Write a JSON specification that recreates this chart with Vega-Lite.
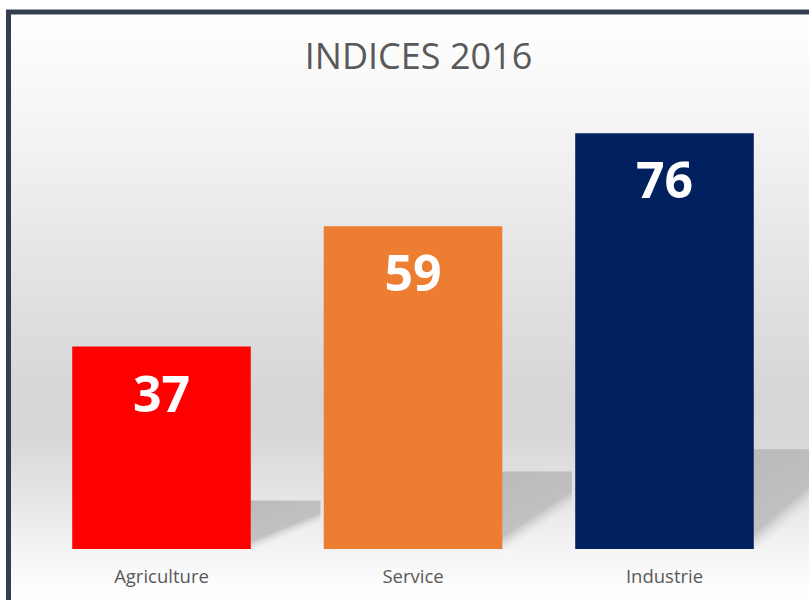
{
  "$schema": "https://vega.github.io/schema/vega-lite/v6.json",
  "width": 820,
  "height": 610,
  "autosize": {"type": "none"},
  "padding": {"left": 8.5, "top": 12, "right": 0, "bottom": 0},
  "background": "#ffffff",
  "title": {
    "text": "INDICES 2016",
    "font": "Open Sans",
    "fontSize": 36,
    "fontWeight": "normal",
    "color": "#595959",
    "anchor": "middle",
    "frame": "group",
    "baseline": "alphabetic",
    "offset": -93
  },
  "view": {
    "stroke": "#333F50",
    "strokeWidth": 5,
    "fill": {
      "gradient": "linear",
      "x1": 0, "y1": 0, "x2": 0, "y2": 1,
      "stops": [
        {"offset": 0, "color": "#ffffff"},
        {"offset": 0.144, "color": "#f7f7f7"},
        {"offset": 0.308, "color": "#ececec"},
        {"offset": 0.472, "color": "#e0e0e0"},
        {"offset": 0.636, "color": "#d6d6d6"},
        {"offset": 0.70, "color": "#d8d8d8"},
        {"offset": 0.80, "color": "#e6e6e6"},
        {"offset": 0.898, "color": "#f7f7f7"},
        {"offset": 0.964, "color": "#ffffff"},
        {"offset": 1, "color": "#ffffff"}
      ]
    }
  },
  "data": {
    "values": [
      {"secteur": "Agriculture", "indice": 37},
      {"secteur": "Service", "indice": 59},
      {"secteur": "Industrie", "indice": 76}
    ]
  },
  "encoding": {
    "x": {
      "field": "secteur",
      "type": "nominal",
      "sort": ["Agriculture", "Service", "Industrie"],
      "scale": {"range": [27.25, 781.75], "paddingInner": 0.29, "paddingOuter": 0.145},
      "axis": null
    }
  },
  "resolve": {"scale": {"y": "independent"}},
  "layer": [
    {
      "mark": {
        "type": "bar",
        "width": 70,
        "xOffset": 124,
        "fill": {
          "gradient": "linear",
          "x1": 0, "y1": 0, "x2": 0.6, "y2": 1,
          "stops": [
            {"offset": 0, "color": "rgba(180,180,180,0.85)"},
            {"offset": 0.62, "color": "rgba(185,185,185,0.85)"},
            {"offset": 0.78, "color": "rgba(220,220,220,0)"},
            {"offset": 1, "color": "rgba(220,220,220,0)"}
          ]
        }
      },
      "encoding": {
        "y": {
          "field": "indice",
          "type": "quantitative",
          "scale": {"domain": [0, 333], "range": [537, 99.4], "nice": false, "zero": true},
          "axis": null
        }
      }
    },
    {
      "layer": [
        {
          "mark": {"type": "bar"},
          "encoding": {
            "y": {
              "field": "indice",
              "type": "quantitative",
              "scale": {"domain": [0, 80], "range": [537, 99.4], "nice": false, "zero": true},
              "axis": null
            },
            "color": {
              "field": "secteur",
              "type": "nominal",
              "scale": {"domain": ["Agriculture", "Service", "Industrie"], "range": ["#FF0000", "#ED7D31", "#002060"]},
              "legend": null
            }
          }
        },
        {
          "mark": {"type": "text", "font": "Open Sans", "fontWeight": "bold", "fontSize": 50, "color": "#ffffff", "baseline": "alphabetic", "align": "center", "dy": 65},
          "encoding": {
            "y": {"field": "indice", "type": "quantitative"},
            "text": {"field": "indice", "type": "quantitative"}
          }
        },
        {
          "mark": {"type": "text", "font": "Open Sans", "fontSize": 18.5, "color": "#595959", "baseline": "alphabetic", "align": "center", "dy": 34},
          "encoding": {
            "y": {"datum": 0, "type": "quantitative"},
            "text": {"field": "secteur", "type": "nominal"}
          }
        }
      ]
    }
  ]
}
